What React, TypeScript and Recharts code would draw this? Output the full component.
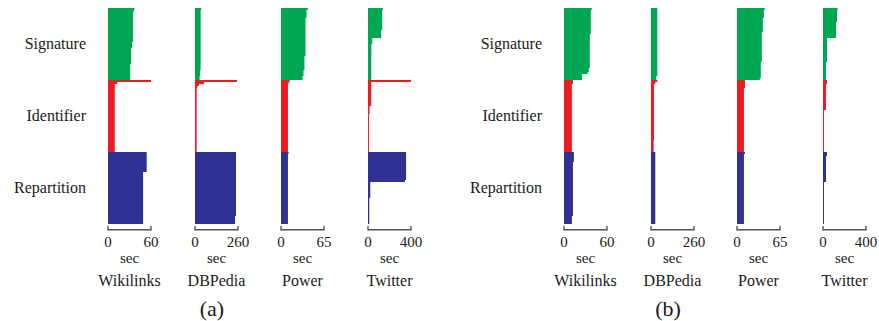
import { BarChart, Bar, XAxis, YAxis, Cell } from "recharts";

const GROUPS = ["Signature", "Identifier", "Repartition"];
const GROUP_COLORS = ["#00A651", "#ED1C24", "#2E3192"];
const DATASETS = ["Wikilinks", "DBPedia", "Power", "Twitter"];
const AXIS_MAX = [60, 260, 65, 400];
const PANELS = ["(a)", "(b)"];

// panel (a): seconds per worker, top row first
const wikiA_sig = [
  37, 36, 35, 35, 35, 35, 35, 35, 35, 35, 35, 35,
  35, 35, 35, 35, 35, 33.6, 33.6, 33.6, 32.3, 32.3, 32.3, 32.3,
  32.3, 32.3, 32.3, 32.3, 31, 31, 31, 31, 31, 31, 31, 31,
];
const wikiA_idf = [
  60, 13, 9.5, 9.5, 9.5, 9.5, 9.5, 9.5, 9.5, 9.5, 9.5, 9.5,
  9.5, 9.5, 9.5, 9.5, 9.5, 9.5, 9.5, 9.5, 9.5, 9.5, 9.5, 9.5,
  9.5, 9.5, 9.5, 9.5, 9.5, 9.5, 9.5, 9.5, 9.5, 9.5, 9.5, 9.5,
];
const wikiA_rep = [
  54, 54, 54, 54, 54, 54, 54, 54, 54, 54, 49, 49,
  49, 49, 49, 49, 49, 49, 49, 49, 49, 49, 49, 49,
  49, 49, 49, 49, 49, 49, 49, 49, 49, 49, 49, 49,
];

const dbpA_sig = [
  38, 34, 34, 34, 34, 34, 34, 34, 34, 34, 34, 34,
  34, 34, 34, 34, 34, 34, 34, 34, 34, 34, 34, 34,
  34, 34, 34, 34, 34, 34, 34, 31, 31, 31, 28, 28,
];
const dbpA_idf = [
  254, 54, 24, 14, 10, 10, 10, 10, 10, 10, 10, 10,
  10, 10, 10, 10, 10, 10, 10, 10, 10, 10, 10, 10,
  10, 10, 10, 10, 10, 10, 10, 10, 10, 10, 10, 10,
];
const dbpA_rep = [
  248, 248, 248, 248, 248, 248, 248, 248, 248, 248, 248, 248,
  248, 248, 248, 248, 248, 248, 248, 248, 248, 248, 248, 248,
  248, 248, 248, 248, 248, 248, 248, 248, 242, 242, 242, 242,
];

const powA_sig = [
  40.5, 38.5, 38.5, 38.5, 38.5, 37, 37, 37, 37, 37, 37, 37,
  37, 37, 37, 37, 37, 37, 37, 37, 37, 37, 37, 37,
  35.5, 35.5, 35.5, 35.5, 35.5, 35.5, 35.5, 34, 34, 34, 32.5, 32.5,
];
const powA_idf = [
  13, 11.5, 10.5, 10.5, 10.5, 10.5, 10.5, 10.5, 10.5, 10.5, 10.5, 10.5,
  10.5, 10.5, 10.5, 10.5, 10.5, 10.5, 10.5, 10.5, 10.5, 10.5, 10.5, 10.5,
  10.5, 10.5, 10.5, 10.5, 10.5, 10.5, 10.5, 10.5, 10.5, 10.5, 10.5, 10.5,
];
const powA_rep = [
  11.5, 10.5, 10.5, 10.5, 10.5, 10.5, 10.5, 10.5, 10.5, 10.5, 10.5, 10.5,
  10.5, 10.5, 10.5, 10.5, 10.5, 10.5, 10.5, 10.5, 10.5, 10.5, 10.5, 10.5,
  10.5, 10.5, 10.5, 10.5, 10.5, 10.5, 10.5, 10.5, 10.5, 10.5, 10.5, 10.5,
];

const twA_sig = [
  138, 132, 132, 132, 132, 132, 132, 132, 132, 132, 132, 123,
  123, 123, 123, 40, 40, 40, 31, 31, 31, 31, 31, 31,
  30, 30, 30, 30, 30, 30, 30, 30, 30, 30, 30, 30,
];
const twA_idf = [
  400, 30, 30, 30, 30, 30, 30, 30, 30, 30, 30, 30,
  30, 14, 14, 14, 14, 9, 9, 9, 9, 9, 9, 9,
  9, 9, 9, 9, 9, 9, 9, 9, 9, 9, 9, 9,
];
const twA_rep = [
  354, 354, 354, 354, 354, 354, 354, 354, 354, 354, 354, 354,
  354, 354, 344, 21, 21, 21, 21, 21, 21, 21, 21, 12,
  12, 12, 12, 12, 12, 12, 12, 12, 12, 12, 12, 12,
];

// panel (b)
const wikiB_sig = [
  38.8, 37.4, 37.4, 37.4, 37.4, 37.4, 37.4, 37.4, 37.4, 37.4, 37.4, 37.4,
  37.4, 36, 36, 36, 36, 36, 36, 36, 36, 36, 36, 36,
  36, 36, 36, 36, 36, 36, 34.6, 34.6, 33, 25, 25, 25,
];
const wikiB_idf = [
  12.5, 12.5, 11, 11, 11, 11, 11, 11, 11, 11, 11, 11,
  11, 11, 11, 11, 11, 11, 11, 11, 11, 11, 11, 11,
  11, 11, 11, 11, 11, 11, 11, 11, 11, 11, 11, 11,
];
const wikiB_rep = [
  13.8, 13.8, 13.8, 13.8, 13.8, 12.5, 12.5, 12.5, 12.5, 12.5, 12.5, 12.5,
  12.5, 12.5, 12.5, 12.5, 12.5, 12.5, 12.5, 12.5, 12.5, 12.5, 12.5, 12.5,
  12.5, 12.5, 12.5, 12.5, 12.5, 12.5, 12.5, 12.5, 11, 11, 11, 11,
];

const dbpB_sig = [
  38, 38, 38, 38, 38, 38, 38, 38, 38, 38, 38, 38,
  38, 38, 38, 38, 38, 38, 38, 38, 38, 38, 38, 38,
  38, 38, 38, 38, 38, 38, 38, 38, 38, 38, 32, 32,
];
const dbpB_idf = [
  38, 26, 18, 18, 18, 18, 18, 18, 18, 18, 18, 18,
  18, 18, 18, 18, 18, 18, 18, 18, 18, 18, 18, 18,
  18, 18, 18, 18, 18, 18, 16, 16, 16, 16, 16, 16,
];
const dbpB_rep = [
  26, 26, 26, 26, 26, 26, 26, 26, 26, 26, 26, 26,
  26, 26, 26, 26, 26, 26, 26, 26, 26, 26, 26, 26,
  26, 26, 26, 26, 26, 26, 26, 26, 26, 26, 26, 26,
];

const powB_sig = [
  42, 40.5, 40.5, 40.5, 40.5, 39, 39, 39, 39, 39, 39, 39,
  37.5, 37.5, 37.5, 37.5, 37.5, 37.5, 37.5, 37.5, 37.5, 37.5, 37.5, 37.5,
  37.5, 37.5, 37.5, 36, 36, 36, 36, 36, 36, 36, 36, 34.5,
];
const powB_idf = [
  12, 12, 12, 12, 10.5, 10.5, 10.5, 10.5, 10.5, 10.5, 10.5, 10.5,
  10.5, 10.5, 10.5, 10.5, 10.5, 10.5, 10.5, 10.5, 10.5, 10.5, 10.5, 10.5,
  10.5, 10.5, 10.5, 10.5, 10.5, 10.5, 10.5, 10.5, 10.5, 10.5, 10.5, 10.5,
];
const powB_rep = [
  12, 10.5, 10.5, 10.5, 10.5, 10.5, 10.5, 10.5, 10.5, 10.5, 10.5, 10.5,
  10.5, 10.5, 10.5, 10.5, 10.5, 10.5, 10.5, 10.5, 10.5, 10.5, 10.5, 10.5,
  10.5, 10.5, 10.5, 10.5, 10.5, 10.5, 10.5, 10.5, 10.5, 10.5, 10.5, 10.5,
];

const twB_sig = [
  136, 130, 130, 130, 130, 130, 130, 121, 121, 121, 121, 121,
  121, 121, 121, 37, 37, 37, 37, 37, 37, 37, 37, 37,
  37, 37, 37, 28, 28, 28, 28, 28, 28, 28, 28, 28,
];
const twB_idf = [
  37, 37, 28, 28, 28, 28, 28, 28, 28, 28, 28, 28,
  28, 28, 28, 9, 9, 9, 9, 9, 9, 9, 9, 9,
  9, 9, 9, 9, 9, 9, 9, 9, 9, 9, 9, 9,
];
const twB_rep = [
  37, 37, 28, 28, 28, 28, 28, 28, 28, 28, 28, 28,
  28, 28, 28, 9, 9, 9, 9, 9, 9, 9, 9, 9,
  9, 9, 9, 9, 9, 9, 9, 9, 9, 9, 9, 9,
];

const PANEL_DATA = [
  [
    [wikiA_sig, wikiA_idf, wikiA_rep],
    [dbpA_sig, dbpA_idf, dbpA_rep],
    [powA_sig, powA_idf, powA_rep],
    [twA_sig, twA_idf, twA_rep],
  ],
  [
    [wikiB_sig, wikiB_idf, wikiB_rep],
    [dbpB_sig, dbpB_idf, dbpB_rep],
    [powB_sig, powB_idf, powB_rep],
    [twB_sig, twB_idf, twB_rep],
  ],
];

// layout
const FONT = "'Liberation Serif', 'Times New Roman', serif";
const TEXT = "#1a1a1a";
const AXIS_STROKE = "#555";
const PANEL_AXIS_X = [
  [108, 195, 281, 368],
  [564, 651, 737, 823],
];
const PANEL_LABEL_X = [212, 668];
const PLOT_W = 43;
const CHART_H = 300;
const LABEL_W = 100;

function GroupTick({ x, y, payload }: any) {
  const [g, i] = String(payload.value).split("-").map(Number);
  if (i !== 17) return null;
  return (
    <text x={x} y={y + 6} textAnchor="end" fontSize={16} fontFamily={FONT} fill={TEXT}>
      {GROUPS[g]}
    </text>
  );
}

function BracketTick({ x, y, payload, index }: any) {
  return (
    <g>
      <line x1={x} x2={x} y1={y + 2} y2={y + 6.5} stroke={AXIS_STROKE} strokeWidth={1.4} />
      {index === 0 && (
        <line x1={x} x2={x + PLOT_W} y1={y + 5.8} y2={y + 5.8} stroke={AXIS_STROKE} strokeWidth={1.4} />
      )}
      <text x={x} y={y + 23} textAnchor="middle" fontSize={15} fontFamily={FONT} fill={TEXT}>
        {payload.value}
      </text>
    </g>
  );
}

function SmallChart({ series, max, showLabels }: { series: number[][]; max: number; showLabels: boolean }) {
  const rows = series.flatMap((vals, g) =>
    vals.map((v, i) => ({ row: `${g}-${i}`, value: v, group: g }))
  );
  const left = showLabels ? 0 : 12;
  const width = left + (showLabels ? LABEL_W : 0) + PLOT_W + 15;

  return (
    <BarChart
      width={width}
      height={CHART_H}
      data={rows}
      layout="vertical"
      barCategoryGap={0}
      margin={{ top: 8, right: 15, bottom: 46, left }}
    >
      <XAxis
        type="number"
        domain={[0, max]}
        ticks={[0, max]}
        interval={0}
        height={30}
        axisLine={false}
        tickLine={false}
        tickSize={0}
        tickMargin={0}
        tick={<BracketTick />}
      />
      <YAxis
        type="category"
        dataKey="row"
        hide={!showLabels}
        width={LABEL_W}
        axisLine={false}
        tickLine={false}
        tickSize={0}
        tickMargin={22}
        interval={0}
        tick={<GroupTick />}
      />
      <Bar dataKey="value" isAnimationActive={false}>
        {rows.map(r => (
          <Cell key={r.row} fill={GROUP_COLORS[r.group]} />
        ))}
      </Bar>
    </BarChart>
  );
}

export default function App() {
  return (
    <div
      style={{
        position: "absolute",
        left: 0,
        top: 0,
        width: 879,
        height: 321,
        background: "#fff",
        fontFamily: FONT,
        color: TEXT,
        overflow: "hidden",
      }}
    >
      {PANEL_DATA.map((panel, p) => (
        <div key={p}>
          {panel.map((series, d) => {
            const ax = PANEL_AXIS_X[p][d];
            const showLabels = d === 0;
            const chartLeft = ax - (showLabels ? LABEL_W : 12);
            return (
              <div key={d}>
                <div style={{ position: "absolute", left: chartLeft, top: 0 }}>
                  <SmallChart series={series} max={AXIS_MAX[d]} showLabels={showLabels} />
                </div>
                <div
                  style={{
                    position: "absolute",
                    left: ax + PLOT_W / 2 - 50,
                    top: 251,
                    width: 100,
                    textAlign: "center",
                    fontSize: 15,
                    lineHeight: "15px",
                  }}
                >
                  sec
                </div>
                <div
                  style={{
                    position: "absolute",
                    left: ax + PLOT_W / 2 - 50,
                    top: 273,
                    width: 100,
                    textAlign: "center",
                    fontSize: 16,
                    lineHeight: "16px",
                  }}
                >
                  {DATASETS[d]}
                </div>
              </div>
            );
          })}
          <div
            style={{
              position: "absolute",
              left: PANEL_LABEL_X[p] - 50,
              top: 298,
              width: 100,
              textAlign: "center",
              fontSize: 22,
              lineHeight: "22px",
            }}
          >
            {PANELS[p]}
          </div>
        </div>
      ))}
    </div>
  );
}
